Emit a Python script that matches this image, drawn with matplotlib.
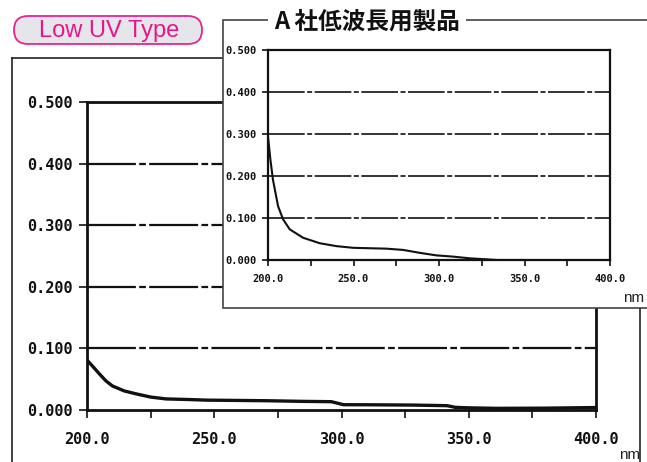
import matplotlib
matplotlib.use("Agg")
import matplotlib.pyplot as plt
from matplotlib.patches import Rectangle, FancyBboxPatch
from matplotlib.lines import Line2D
from matplotlib.transforms import IdentityTransform

# ---------------- data ----------------
main_x = [200, 202, 205, 207.5, 210, 214.6, 219.5, 225, 231, 240, 247, 260, 271.5, 285, 296, 300.8, 310, 328, 341.5, 344.7, 350, 361, 380, 400]
main_y = [0.081, 0.072, 0.058, 0.047, 0.039, 0.031, 0.026, 0.021, 0.018, 0.017, 0.016, 0.0155, 0.015, 0.014, 0.0135, 0.0086, 0.0085, 0.008, 0.007, 0.0043, 0.0035, 0.0027, 0.003, 0.004]

inset_x = [200, 201.4, 202.9, 205.9, 208.8, 212.7, 220.5, 230.2, 240, 249.8, 259.5, 269.3, 279, 288.8, 298.5, 308.3, 318, 327.8, 333.7, 349]
inset_y = [0.294, 0.239, 0.191, 0.128, 0.097, 0.073, 0.053, 0.040, 0.033, 0.029, 0.028, 0.027, 0.024, 0.017, 0.011, 0.008, 0.004, 0.0016, 0.0, 0.0]

y_ticks = [0.0, 0.1, 0.2, 0.3, 0.4, 0.5]
y_labels = ["0.000", "0.100", "0.200", "0.300", "0.400", "0.500"]
x_ticks = [200, 250, 300, 350, 400]
x_labels = ["200.0", "250.0", "300.0", "350.0", "400.0"]
x_minor = [225, 275, 325, 375]

label_text = "Low UV Type"
inset_title = "A 社低波長用製品"
unit = "nm"

W, H = 647, 462
fig = plt.figure(figsize=(W / 100, H / 100), dpi=100)
fig.patch.set_facecolor("white")

def fx(px):
    return px / W

def fy(py):
    return 1 - py / H

mono = {"family": "DejaVu Sans Mono", "weight": "bold"}

def style_axes(ax, fs, lw_frame, lw_grid, ticklen):
    ax.set_xlim(200, 400)
    ax.set_ylim(0, 0.5)
    ax.set_facecolor("none")
    for s in ax.spines.values():
        s.set_color("#111111")
        s.set_linewidth(lw_frame)
    ax.set_yticks(y_ticks)
    ax.set_yticklabels(y_labels, fontdict=mono, fontsize=fs)
    ax.set_xticks(x_ticks)
    ax.set_xticklabels(x_labels, fontdict=mono, fontsize=fs)
    ax.set_xticks(x_minor, minor=True)
    ax.tick_params(axis="both", which="both", direction="out", length=ticklen,
                   width=1.2, color="#111111", labelcolor="#111111")
    ax.tick_params(axis="y", which="major", pad=4)
    for yv in y_ticks[1:-1]:
        ax.axhline(yv, color="#111111", lw=lw_grid, ls=(0, (22, 1.5, 3, 1.5)), zorder=1)

# ---------------- main axes ----------------
axm = fig.add_axes([fx(87), fy(410), fx(596) - fx(87), fy(102) - fy(410)])
axm.set_zorder(1)
style_axes(axm, 11, 2.0, 1.6, 6)
axm.tick_params(axis="x", which="major", pad=10)
axm.plot(main_x, main_y, color="#111111", lw=2.4, zorder=3)

# main outer frame
fig.add_artist(Line2D([fx(12), fx(12)], [fy(58), fy(470)], color="#222222", lw=1.2, zorder=1))
fig.add_artist(Line2D([fx(12), fx(640)], [fy(58), fy(58)], color="#222222", lw=1.2, zorder=1))
fig.add_artist(Line2D([fx(640), fx(640)], [fy(58), fy(470)], color="#222222", lw=1.2, zorder=1))
fig.text(fx(630), fy(455), unit, fontsize=11, family="Liberation Sans", color="#222222",
         ha="center", va="center", zorder=1)

# ---------------- inset panel ----------------
panel = Rectangle((fx(223), fy(308)), fx(700) - fx(223), fy(20) - fy(308),
                  transform=fig.transFigure, facecolor="white", edgecolor="#444444",
                  lw=1.2, zorder=5)
fig.add_artist(panel)

axi = fig.add_axes([fx(268), fy(260), fx(610) - fx(268), fy(50) - fy(260)])
axi.set_zorder(6)
style_axes(axi, 7.5, 1.6, 1.2, 4)
axi.tick_params(axis="x", which="major", pad=6)
axi.plot(inset_x, inset_y, color="#111111", lw=1.5, zorder=3)

fig.text(fx(634), fy(298), unit, fontsize=11, family="Liberation Sans", color="#222222",
         ha="center", va="center", zorder=7)

# inset title breaking the top border
fig.text(fx(367), fy(22), inset_title, fontsize=17, weight="bold",
         family=["Noto Sans CJK JP", "DejaVu Sans"], color="#111111",
         ha="center", va="center", zorder=8,
         bbox=dict(facecolor="white", edgecolor="none", pad=4))

# ---------------- pink label ----------------
badge = FancyBboxPatch((14, H - 44), 188, 28,
                       boxstyle="round,pad=0,rounding_size=14",
                       transform=IdentityTransform(), facecolor="#e6e6ea",
                       edgecolor="#e8248f", lw=1.3, zorder=9)
fig.add_artist(badge)
fig.text(fx(109), fy(31), label_text, fontsize=17, family="Liberation Sans",
         color="#e6168a", ha="center", va="center", zorder=10)

fig.savefig("out.png", dpi=100, facecolor="white")
